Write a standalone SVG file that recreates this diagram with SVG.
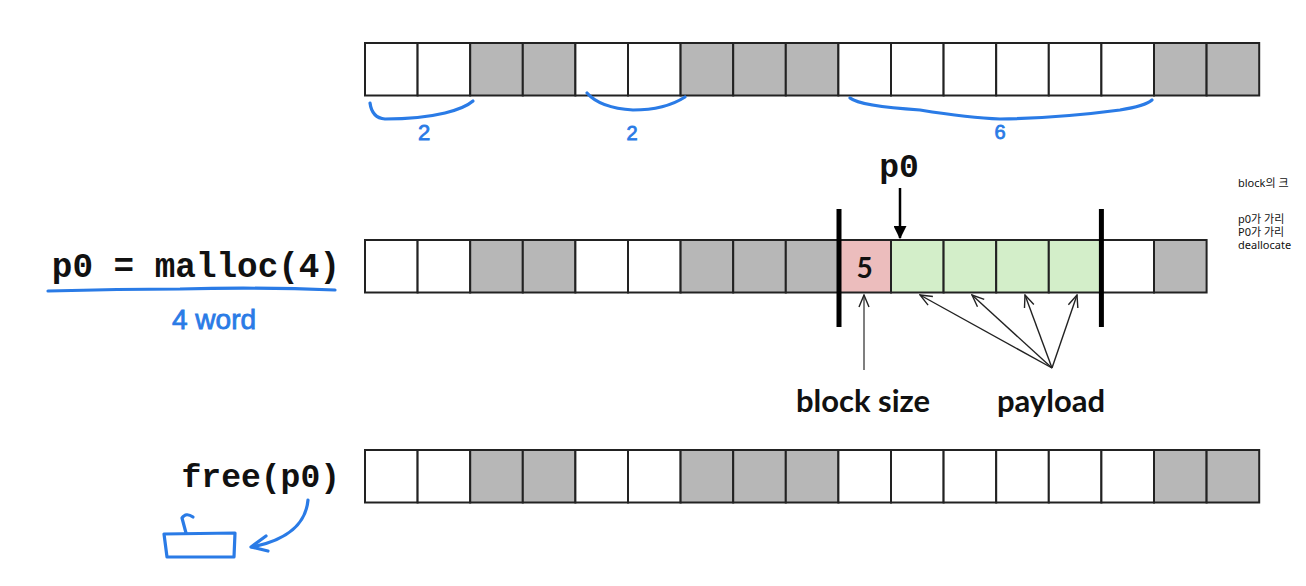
<svg xmlns="http://www.w3.org/2000/svg" width="1306" height="586" viewBox="0 0 1306 586">
<style>
.c{stroke:#222;stroke-width:2}
.w{fill:#ffffff}
.g{fill:#b7b7b7}
.p{fill:#ecbdbd}
.gr{fill:#d3eec9}
.mono{font-family:"Liberation Mono","Courier New",monospace;font-weight:bold;fill:#111}
.lbl{font-family:Lato,"Open Sans",sans-serif;font-weight:bold;fill:#111}
.kr{font-family:"Noto Sans","Noto Sans CJK KR",sans-serif;font-size:11px;fill:#111}
.hand{fill:none;stroke:#2a7be6;stroke-width:3.2;stroke-linecap:round;stroke-linejoin:round}
.ht{font-family:"Liberation Sans",Arial,sans-serif;fill:#2a7be6;stroke:#2a7be6;stroke-width:0.8}
.bar{stroke:#000;stroke-width:5}
</style>
<defs>
<marker id="open" viewBox="0 0 14 12" refX="13" refY="6" markerWidth="14" markerHeight="12" markerUnits="userSpaceOnUse" orient="auto">
<path d="M1,1 L13,6 L1,11" fill="none" stroke="#222" stroke-width="1.4"/>
</marker>
<marker id="fill" viewBox="0 0 12 12" refX="11" refY="6" markerWidth="13" markerHeight="13" markerUnits="userSpaceOnUse" orient="auto">
<path d="M0,0 L12,6 L0,12 Z" fill="#000"/>
</marker>
</defs>

<g id="row-top">
<rect class="c w" x="365" y="43" width="52.6" height="52.5"/>
<rect class="c w" x="417.6" y="43" width="52.6" height="52.5"/>
<rect class="c g" x="470.2" y="43" width="52.6" height="52.5"/>
<rect class="c g" x="522.8" y="43" width="52.6" height="52.5"/>
<rect class="c w" x="575.4" y="43" width="52.6" height="52.5"/>
<rect class="c w" x="628" y="43" width="52.6" height="52.5"/>
<rect class="c g" x="680.6" y="43" width="52.6" height="52.5"/>
<rect class="c g" x="733.2" y="43" width="52.6" height="52.5"/>
<rect class="c g" x="785.8" y="43" width="52.6" height="52.5"/>
<rect class="c w" x="838.4" y="43" width="52.6" height="52.5"/>
<rect class="c w" x="891" y="43" width="52.6" height="52.5"/>
<rect class="c w" x="943.6" y="43" width="52.6" height="52.5"/>
<rect class="c w" x="996.2" y="43" width="52.6" height="52.5"/>
<rect class="c w" x="1048.8" y="43" width="52.6" height="52.5"/>
<rect class="c w" x="1101.4" y="43" width="52.6" height="52.5"/>
<rect class="c g" x="1154" y="43" width="52.6" height="52.5"/>
<rect class="c g" x="1206.6" y="43" width="52.6" height="52.5"/>
</g>

<g id="row-mid">
<rect class="c w" x="365" y="240" width="52.6" height="52.5"/>
<rect class="c w" x="417.6" y="240" width="52.6" height="52.5"/>
<rect class="c g" x="470.2" y="240" width="52.6" height="52.5"/>
<rect class="c g" x="522.8" y="240" width="52.6" height="52.5"/>
<rect class="c w" x="575.4" y="240" width="52.6" height="52.5"/>
<rect class="c w" x="628" y="240" width="52.6" height="52.5"/>
<rect class="c g" x="680.6" y="240" width="52.6" height="52.5"/>
<rect class="c g" x="733.2" y="240" width="52.6" height="52.5"/>
<rect class="c g" x="785.8" y="240" width="52.6" height="52.5"/>
<rect class="c p" x="838.4" y="240" width="52.6" height="52.5"/>
<rect class="c gr" x="891" y="240" width="52.6" height="52.5"/>
<rect class="c gr" x="943.6" y="240" width="52.6" height="52.5"/>
<rect class="c gr" x="996.2" y="240" width="52.6" height="52.5"/>
<rect class="c gr" x="1048.8" y="240" width="52.6" height="52.5"/>
<rect class="c w" x="1101.4" y="240" width="52.6" height="52.5"/>
<rect class="c g" x="1154" y="240" width="52.6" height="52.5"/>
<text class="lbl" x="864.5" y="278" font-size="28" text-anchor="middle">5</text>
<line class="bar" x1="839" y1="209" x2="839" y2="327"/>
<line class="bar" x1="1101.4" y1="209" x2="1101.4" y2="327"/>
</g>

<g id="row-bottom">
<rect class="c w" x="365" y="450" width="52.6" height="52.5"/>
<rect class="c w" x="417.6" y="450" width="52.6" height="52.5"/>
<rect class="c g" x="470.2" y="450" width="52.6" height="52.5"/>
<rect class="c g" x="522.8" y="450" width="52.6" height="52.5"/>
<rect class="c w" x="575.4" y="450" width="52.6" height="52.5"/>
<rect class="c w" x="628" y="450" width="52.6" height="52.5"/>
<rect class="c g" x="680.6" y="450" width="52.6" height="52.5"/>
<rect class="c g" x="733.2" y="450" width="52.6" height="52.5"/>
<rect class="c g" x="785.8" y="450" width="52.6" height="52.5"/>
<rect class="c w" x="838.4" y="450" width="52.6" height="52.5"/>
<rect class="c w" x="891" y="450" width="52.6" height="52.5"/>
<rect class="c w" x="943.6" y="450" width="52.6" height="52.5"/>
<rect class="c w" x="996.2" y="450" width="52.6" height="52.5"/>
<rect class="c w" x="1048.8" y="450" width="52.6" height="52.5"/>
<rect class="c w" x="1101.4" y="450" width="52.6" height="52.5"/>
<rect class="c g" x="1154" y="450" width="52.6" height="52.5"/>
<rect class="c g" x="1206.6" y="450" width="52.6" height="52.5"/>
</g>

<g id="label-malloc">
<text class="mono" x="340" y="277" font-size="34.3" text-anchor="end">p0 = malloc(4)</text>
</g>
<g id="label-free">
<text class="mono" x="340" y="487" font-size="33" text-anchor="end">free(p0)</text>
</g>
<g id="label-p0">
<text class="mono" x="899" y="177" font-size="33" text-anchor="middle">p0</text>
</g>
<g id="label-blocksize">
<text class="lbl" x="863" y="412" font-size="31" text-anchor="middle">block size</text>
</g>
<g id="label-payload">
<text class="lbl" x="1051" y="412" font-size="31" text-anchor="middle">payload</text>
</g>

<g id="connectors">
<line x1="900" y1="188" x2="900" y2="238" stroke="#000" stroke-width="2.5" marker-end="url(#fill)"/>
<line x1="864" y1="370" x2="864" y2="295" stroke="#555" stroke-width="1.5" marker-end="url(#open)"/>
<line x1="1052" y1="368" x2="920" y2="295" stroke="#222" stroke-width="1.4" marker-end="url(#open)"/>
<line x1="1052" y1="368" x2="972" y2="295" stroke="#222" stroke-width="1.4" marker-end="url(#open)"/>
<line x1="1052" y1="368" x2="1025" y2="295" stroke="#222" stroke-width="1.4" marker-end="url(#open)"/>
<line x1="1052" y1="368" x2="1077" y2="295" stroke="#222" stroke-width="1.4" marker-end="url(#open)"/>
</g>

<g id="notes">
<text class="kr" x="1238" y="187">block의 크</text>
<text class="kr" x="1238" y="223">p0가 가리</text>
<text class="kr" x="1238" y="236">P0가 가리</text>
<text class="kr" x="1238" y="249">deallocate</text>
</g>

<g id="handwriting">
<path class="hand" d="M370,103 Q372,118 385,119 Q420,119 445,113 Q465,108 473,101"/>
<text class="ht" x="424" y="140" font-size="22" text-anchor="middle">2</text>
<path class="hand" d="M587,93 Q600,108 633,110 Q665,110 685,97"/>
<text class="ht" x="632" y="140" font-size="20" text-anchor="middle">2</text>
<path class="hand" d="M850,98 Q860,106 920,110 Q970,118 1000,119 Q1060,118 1120,110 Q1145,106 1152,100"/>
<text class="ht" x="1000" y="139" font-size="20" text-anchor="middle">6</text>
<path class="hand" d="M48,291 Q120,289 180,289 Q260,287 335,290"/>
<text class="ht" x="172" y="329" font-size="28">4 word</text>
<path class="hand" d="M308,500 C306,523 288,540 252,547"/>
<path class="hand" d="M266,536 L251,547 L268,551"/>
<path class="hand" d="M164,534 L235,533 L234,557 L167,557 Z"/>
<path class="hand" d="M186,533 L182,518 Q186,512 193,517"/>
</g>
</svg>
